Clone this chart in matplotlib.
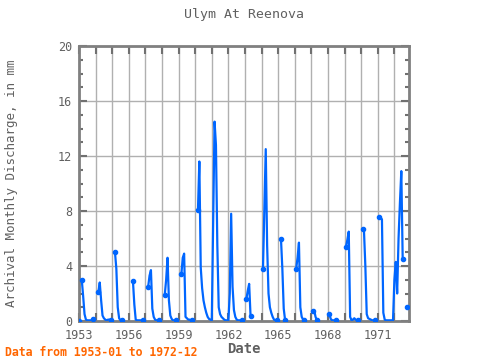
import numpy as np
import matplotlib
matplotlib.use('Agg')
import matplotlib.pyplot as plt
from matplotlib.ticker import MultipleLocator

nan = np.nan
title = "Ulym At Reenova"
ylabel = "Archival Monthly Discharge, in mm"
xlabel = "Date"
note = "Data from 1953-01 to 1972-12"

years = list(range(1953, 1973))
q1953 = [0.02, nan, 3.0, 1.8, 0.5, 0.1, 0.05, 0.05, 0.05, 0.05, 0.15, nan]
q1954 = [nan, nan, 2.1, 2.8, 1.5, 0.4, 0.2, 0.1, 0.05, 0.1, 0.1, 0.1]
q1955 = [nan, nan, 5.0, 3.8, 1.0, 0.2, 0.05, 0.05, nan, nan, nan, nan]
q1956 = [nan, nan, nan, 2.9, 1.2, 0.1, 0.05, 0.05, 0.05, 0.05, 0.1, nan]
q1957 = [nan, nan, 2.5, 3.3, 3.7, 0.9, 0.3, 0.1, 0.05, 0.05, 0.05, nan]
q1958 = [nan, nan, 1.9, 3.0, 4.6, 1.5, 0.4, 0.15, 0.05, 0.05, 0.05, nan]
q1959 = [nan, nan, 3.4, 4.6, 4.9, 0.3, 0.2, 0.1, 0.1, 0.05, 0.05, nan]
q1960 = [nan, nan, 8.1, 11.6, 3.9, 2.4, 1.5, 1.0, 0.6, 0.3, 0.15, 0.1]
q1961 = [0.05, 7.2, 14.5, 12.8, 5.5, 1.0, 0.5, 0.3, 0.2, 0.1, 0.05, 0.05]
q1962 = [0.05, 2.0, 7.8, 2.5, 0.8, 0.3, 0.1, 0.05, 0.05, 0.05, 0.05, nan]
q1963 = [nan, 1.6, 2.2, 2.7, 0.4, nan, nan, nan, nan, nan, nan, nan]
q1964 = [nan, 3.8, 8.2, 12.5, 5.5, 2.0, 1.0, 0.6, 0.3, 0.1, 0.05, 0.05]
q1965 = [nan, nan, 6.0, 3.8, 0.9, 0.05, nan, nan, nan, nan, nan, nan]
q1966 = [nan, 3.8, 4.6, 5.7, 1.0, 0.3, 0.1, 0.05, nan, nan, nan, nan]
q1967 = [nan, 0.75, 0.8, 0.3, 0.05, nan, nan, nan, nan, nan, nan, nan]
q1968 = [nan, 0.5, 0.15, 0.05, 0.05, 0.05, 0.05, nan, nan, nan, nan, nan]
q1969 = [nan, 5.4, 5.9, 6.5, 0.3, 0.05, 0.1, 0.2, 0.1, 0.05, 0.05, nan]
q1970 = [nan, 6.7, 6.6, 4.0, 0.5, 0.2, 0.15, 0.1, 0.05, 0.05, 0.05, nan]
q1971 = [nan, 7.6, 7.5, 7.4, 0.6, 0.1, 0.05, 0.05, 0.05, 0.05, 0.05, 0.05]
q1972 = [3.0, 4.3, 2.0, 6.0, 8.6, 10.9, 4.5, nan, nan, 1.05, nan, nan]

series = [q1953, q1954, q1955, q1956, q1957, q1958, q1959, q1960, q1961, q1962,
          q1963, q1964, q1965, q1966, q1967, q1968, q1969, q1970, q1971, q1972]
t = np.array([y + m / 12.0 for y in years for m in range(12)])
q = np.array([v for s in series for v in s], dtype=float)

# segment ends (first / last valid value of each run) get a marker
valid = ~np.isnan(q)
prev_valid = np.r_[False, valid[:-1]]
next_valid = np.r_[valid[1:], False]
ends = valid & (~prev_valid | ~next_valid)

fig = plt.figure(figsize=(4.8, 3.6), dpi=100)
ax = fig.add_axes([79/480, 1 - 321/360, 330/480, 275/360])

color = '#0066ff'
ax.plot(t, q, color=color, lw=1.6, zorder=3)
ax.plot(t[ends], q[ends], ls='none', marker='o', ms=3, color=color, zorder=3)

ax.set_xlim(1953.0, 1972.88)
ax.set_ylim(0, 20)
ax.set_xticks(years)
ax.set_xticklabels([str(y) if (y - 1953) % 3 == 0 else '' for y in years])
ax.yaxis.set_major_locator(MultipleLocator(4))
ax.yaxis.set_minor_locator(MultipleLocator(1))
ax.grid(True, which='major', color='#b0b0b0', lw=1.0, zorder=0)

gray = '#808080'
for s in ax.spines.values():
    s.set_color(gray)
    s.set_linewidth(2)
ax.tick_params(which='both', direction='in', top=True, right=True, color='#707070',
               labelcolor='#606060', labelsize=8.5, width=1.5)
ax.tick_params(which='major', length=6)
ax.tick_params(which='minor', length=3)
ax.tick_params(axis='x', pad=6)
ax.tick_params(axis='y', pad=5)
for lbl in ax.get_xticklabels() + ax.get_yticklabels():
    lbl.set_family('DejaVu Sans Mono')

ax.set_title(title, family='DejaVu Sans Mono', fontsize=9.5, color='#606060', pad=20)
ax.set_ylabel(ylabel, family='DejaVu Sans Mono', fontsize=9, color='#606060')
ax.yaxis.set_label_coords(-0.185, 0.5)
ax.set_xlabel(xlabel, family='DejaVu Sans Mono', fontsize=10, color='#606060', fontweight='bold', labelpad=0)
fig.text(5/480, 1 - 356/360, note, family='DejaVu Sans Mono', fontsize=8.3,
         color='#ff6600', fontweight='bold', va='baseline')

fig.savefig('out.png', dpi=100)
